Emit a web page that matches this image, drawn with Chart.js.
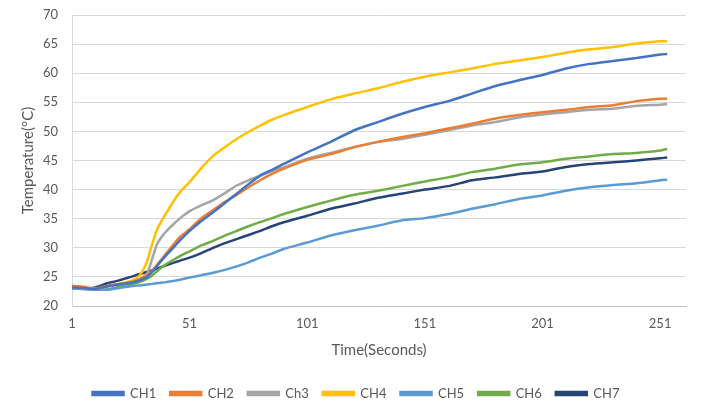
<!DOCTYPE html>
<html>
<head>
<meta charset="utf-8">
<script src="https://cdn.jsdelivr.net/npm/chart.js@4.4.0/dist/chart.umd.min.js"></script>
<style>
  html, body { margin: 0; padding: 0; background: #fff; }
  #caja { width: 705px; height: 413px; }
</style>
</head>
<body>
<div id="caja"><canvas id="miGrafico" width="705" height="413"></canvas></div>
<script>
// Tiempos (segundos)
var tiempos = [1, 6, 11, 16, 21, 26, 29, 31, 33, 35, 37, 39, 41, 44, 47, 51, 56, 61, 66, 71, 76, 81, 86, 91,
  101, 111, 121, 131, 141, 151, 161, 171, 181, 191, 201, 211, 221, 231, 241, 251, 254];

var ch1 = [23.2, 23.1, 22.9, 23.4, 23.7, 24.0, 24.3, 24.6, 25.0, 25.8, 26.8, 27.8, 28.7, 30.0, 31.3, 32.9, 34.6, 36.1, 37.7, 39.3, 40.9, 42.4, 43.4, 44.4,
  46.4, 48.2, 50.2, 51.6, 53.0, 54.2, 55.2, 56.5, 57.8, 58.8, 59.7, 60.8, 61.6, 62.1, 62.6, 63.2, 63.3];
var ch2 = [23.5, 23.3, 23.0, 23.5, 23.8, 24.1, 24.5, 24.9, 25.3, 26.0, 27.0, 28.0, 29.0, 30.5, 31.9, 33.2, 35.1, 36.5, 37.9, 39.1, 40.4, 41.6, 42.7, 43.6,
  45.1, 46.1, 47.3, 48.2, 49.0, 49.7, 50.5, 51.3, 52.2, 52.8, 53.3, 53.7, 54.2, 54.5, 55.2, 55.6, 55.6];
var ch3 = [23.2, 23.0, 22.9, 23.3, 23.7, 24.1, 24.4, 24.8, 25.6, 28.0, 30.5, 31.8, 32.8, 34.0, 35.1, 36.3, 37.3, 38.2, 39.4, 40.7, 41.6, 42.4, 43.2, 43.8,
  45.3, 46.3, 47.3, 48.2, 48.7, 49.4, 50.2, 51.0, 51.6, 52.4, 52.9, 53.3, 53.7, 53.9, 54.4, 54.6, 54.7];
var ch4 = [23.2, 23.1, 22.9, 23.4, 23.8, 24.3, 25.0, 26.0, 27.8, 30.5, 33.0, 34.6, 35.9, 37.9, 39.6, 41.3, 43.7, 45.8, 47.3, 48.7, 49.9, 51.0, 52.0, 52.8,
  54.2, 55.5, 56.5, 57.4, 58.5, 59.4, 60.1, 60.8, 61.6, 62.2, 62.8, 63.5, 64.1, 64.5, 65.1, 65.5, 65.5];
var ch5 = [23.0, 22.9, 22.8, 22.8, 23.1, 23.4, 23.5, 23.6, 23.7, 23.8, 23.9, 24.0, 24.1, 24.3, 24.5, 24.9, 25.3, 25.7, 26.2, 26.8, 27.5, 28.3, 29.0, 29.8,
  30.9, 32.1, 33.0, 33.8, 34.7, 35.1, 35.8, 36.7, 37.5, 38.4, 39.0, 39.8, 40.4, 40.8, 41.1, 41.6, 41.7];
var ch6 = [23.0, 22.9, 22.8, 22.9, 23.3, 23.7, 24.0, 24.3, 24.7, 25.2, 25.9, 26.6, 27.2, 27.9, 28.6, 29.4, 30.4, 31.2, 32.1, 32.9, 33.7, 34.4, 35.1, 35.8,
  37.0, 38.1, 39.1, 39.8, 40.6, 41.4, 42.1, 43.0, 43.6, 44.3, 44.7, 45.3, 45.7, 46.1, 46.3, 46.7, 47.0];
var ch7 = [23.1, 23.0, 23.2, 23.9, 24.4, 25.0, 25.4, 25.6, 25.9, 26.1, 26.4, 26.7, 27.0, 27.4, 27.8, 28.3, 29.1, 30.0, 30.8, 31.5, 32.2, 32.9, 33.7, 34.4,
  35.5, 36.7, 37.6, 38.6, 39.3, 40.0, 40.6, 41.6, 42.1, 42.7, 43.1, 43.9, 44.4, 44.7, 45.0, 45.4, 45.5];

var nombres = ['CH1', 'CH2', 'Ch3', 'CH4', 'CH5', 'CH6', 'CH7'];
var colores = ['#4472C4', '#ED7D31', '#A5A5A5', '#FFC000', '#5B9BD5', '#70AD47', '#264478'];
var etiquetasX = [1, 51, 101, 151, 201, 251];

window.addEventListener('load', obtenerGrafico);

function obtenerGrafico() {
  var ctx = document.getElementById('miGrafico').getContext('2d');
  var series = [ch1, ch2, ch3, ch4, ch5, ch6, ch7];
  var fuente = 'Lato, "Open Sans", sans-serif';
  var gris = '#595959';

  var datasets = series.map(function (valores, i) {
    return {
      label: nombres[i],
      data: valores.map(function (v, j) { return { x: tiempos[j], y: v }; }),
      borderColor: colores[i],
      backgroundColor: colores[i],
      borderWidth: 2.5,
      pointRadius: 0,
      tension: 0.2
    };
  });

  new Chart(ctx, {
    type: 'line',
    data: { datasets: datasets },
    options: {
      responsive: false,
      animation: false,
      devicePixelRatio: 1,
      layout: { padding: { top: 15, right: 19, left: 26, bottom: 3 } },
      plugins: {
        legend: {
          position: 'bottom',
          labels: {
            boxWidth: 31,
            boxHeight: 3,
            padding: 14,
            color: gris,
            font: { family: fuente, size: 13 }
          }
        },
        tooltip: { enabled: false }
      },
      scales: {
        x: {
          type: 'linear',
          min: 1,
          max: 262,
          grid: { display: false, drawTicks: false },
          border: { display: true, color: '#BFBFBF' },
          ticks: { color: gris, padding: 10, maxRotation: 0, font: { family: fuente, size: 13 } },
          afterBuildTicks: function (s) {
            s.ticks = etiquetasX.map(function (v) { return { value: v }; });
          },
          afterFit: function (s) { s.height = 67; },
          title: {
            display: true,
            text: 'Time(Seconds)',
            color: gris,
            font: { family: fuente, size: 15 },
            padding: { top: 0, bottom: 14 }
          }
        },
        y: {
          min: 20,
          max: 70,
          grid: { color: '#D9D9D9', drawTicks: false },
          border: { display: true, color: '#D9D9D9' },
          ticks: { stepSize: 5, color: gris, padding: 14, font: { family: fuente, size: 13 } },
          afterFit: function (s) {
            s.width = 46;
            s.paddingTop = 0;
            s.paddingBottom = 0;
          },
          title: {
            display: true,
            text: 'Temperature(°C)',
            color: gris,
            font: { family: fuente, size: 15 },
            padding: { top: -7, bottom: 0 }
          }
        }
      }
    }
  });
}
</script>
</body>
</html>
